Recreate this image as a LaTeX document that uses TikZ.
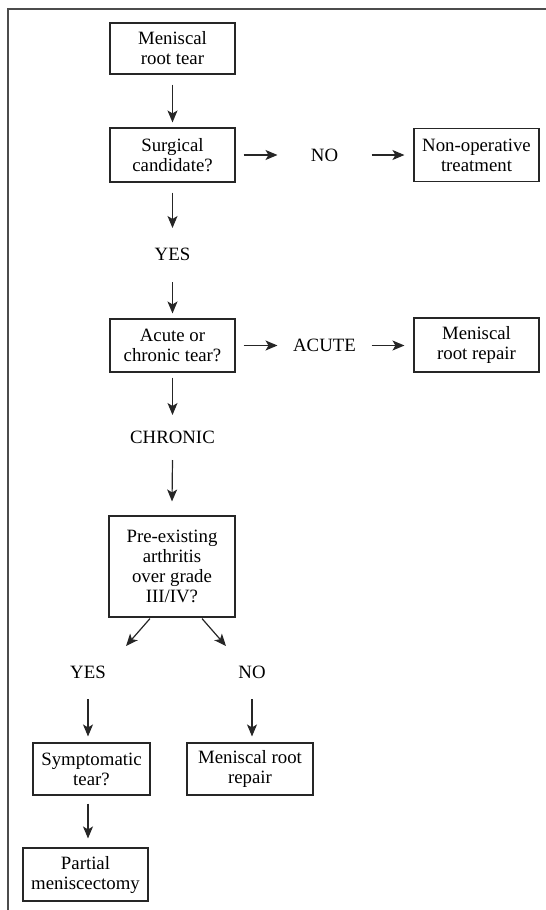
\documentclass[tikz,border=0pt]{standalone}
\usepackage{fontspec}
\setmainfont{Liberation Serif}
\usetikzlibrary{arrows.meta,calc}
\begin{document}
\begin{tikzpicture}[x=1pt,y=-1pt,
  box/.style={draw=black!85, line width=1.1pt, align=center, inner sep=0pt,
    minimum width=125pt, minimum height=53pt, font=\fontsize{18.8}{20}\selectfont},
  lbl/.style={inner sep=0pt, font=\fontsize{18.8}{20}\selectfont},
  arr/.style={draw=black!85, line width=1.2pt, -{Stealth[length=12pt,width=10pt,inset=3pt]}}]
\useasboundingbox (0,0) rectangle (546,910);
\draw[black!70, line width=1.4pt] (546,9) -- (8,9) -- (8,910);

\node[box, minimum height=51pt] (b1) at (172.5,48.5) {Meniscal\\root tear};
\node[box, minimum height=54pt] (b2) at (172.5,155) {Surgical\\candidate?};
\node[lbl] (no1) at (324.5,155) {NO};
\node[box] (b2r) at (476.5,155) {Non-operative\\treatment};
\node[lbl] (yes1) at (172.5,254) {YES};
\node[box] (b3) at (172.5,345.5) {Acute or\\chronic tear?};
\node[lbl] (acute) at (324.5,345.5) {ACUTE};
\node[box, minimum height=54pt] (b3r) at (476.5,345) {Meniscal\\root repair};
\node[lbl] (chronic) at (172.5,437) {CHRONIC};
\node[box, minimum width=126pt, minimum height=101pt] (b4) at (172,566.5) {Pre-existing\\arthritis\\over grade\\III/IV?};
\node[lbl] (yes2) at (88,672) {YES};
\node[lbl] (no2) at (252,672) {NO};
\node[box, minimum width=117pt, minimum height=52pt] (b5) at (91.5,769) {Symptomatic\\tear?};
\node[box, minimum width=126pt, minimum height=52pt] (b6) at (250,769) {Meniscal root\\repair};
\node[box] (b7) at (85.5,874.5) {Partial\\meniscectomy};

% vertical main column
\draw[arr] ($(b1.south)+(0,10)$) -- ($(b2.north)+(0,-5)$);
\draw[arr] ($(b2.south)+(0,10)$) -- ($(yes1.center)+(0,-26)$);
\draw[arr] ($(yes1.center)+(0,28)$) -- ($(b3.north)+(0,-5)$);
\draw[arr] ($(b3.south)+(0,5)$) -- ($(chronic.center)+(0,-22)$);
\draw[arr] ($(chronic.center)+(0,23)$) -- ($(b4.north)+(0,-14)$);

% horizontal branches
\draw[arr] ($(b2.east)+(8,0)$) -- ($(no1.center)+(-47,0)$);
\draw[arr] ($(no1.center)+(47,0)$) -- ($(b2r.west)+(-9,0)$);
\draw[arr] ($(b3.east)+(8,0)$) -- ($(acute.center)+(-47,0)$);
\draw[arr] ($(acute.center)+(47,0)$) -- ($(b3r.west |- b3.east)+(-9,0)$);

% split
\draw[arr] ($(b4.south)+(-22,1)$) -- ($(yes2.center)+(38,-26)$);
\draw[arr] ($(b4.south)+(30,1)$) -- ($(no2.center)+(-26,-26)$);
\draw[arr] ($(yes2.center)+(0,27)$) -- ($(b5.north -| yes2)+(0,-6)$);
\draw[arr] ($(no2.center)+(0,27)$) -- ($(b6.north -| no2)+(0,-6)$);
\draw[arr] ($(b5.south -| yes2)+(0,8)$) -- ($(b7.north -| yes2)+(0,-9)$);
\end{tikzpicture}
\end{document}
